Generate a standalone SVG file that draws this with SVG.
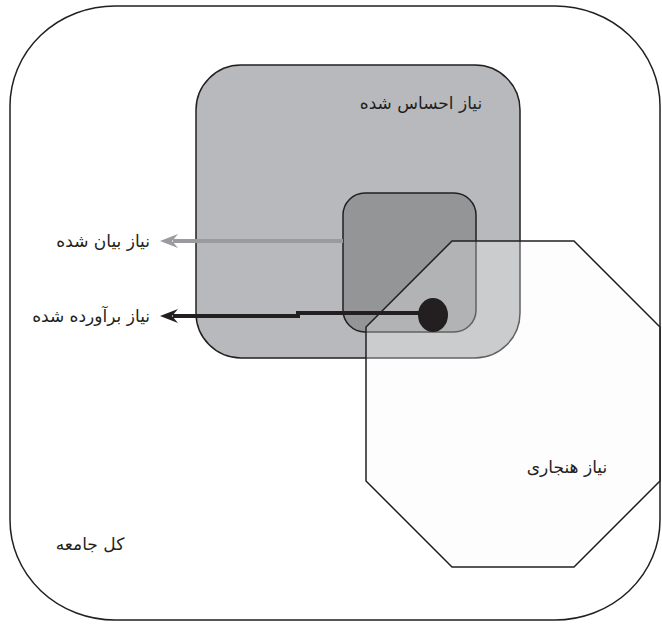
<svg xmlns="http://www.w3.org/2000/svg" width="662" height="624" viewBox="0 0 662 624">
<style>
.lbl{font-family:"DejaVu Sans","Noto Sans",sans-serif;font-size:17px;fill:#231f20;text-anchor:middle}
.lblr{font-family:"DejaVu Sans","Noto Sans",sans-serif;font-size:17px;fill:#231f20;text-anchor:end}
.edge{stroke:#231f20;stroke-width:1.5}
</style>
<defs>
<marker id="ahGray" markerWidth="18" markerHeight="14" refX="5" refY="7" orient="auto" markerUnits="userSpaceOnUse">
<path d="M0,0 L18,7 L0,14 L6,7 Z" fill="#9a9b9e"/>
</marker>
<marker id="ahBlack" markerWidth="18" markerHeight="14" refX="5" refY="7" orient="auto" markerUnits="userSpaceOnUse">
<path d="M0,0 L18,7 L0,14 L6,7 Z" fill="#231f20"/>
</marker>
</defs>
<rect width="662" height="624" fill="#ffffff"/>
<g id="society">
<rect x="10" y="6" width="650" height="614" rx="105" ry="100" fill="#ffffff" class="edge"/>
<text class="lbl" x="90" y="550">کل جامعه</text>
</g>
<g id="felt-need">
<rect x="196" y="65" width="324" height="293" rx="45" ry="45" fill="#b8b9bc" class="edge"/>
<text class="lbl" x="421" y="109">نیاز احساس شده</text>
</g>
<g id="expressed-need">
<rect x="343" y="193" width="133" height="139" rx="22" ry="22" fill="#949597" class="edge"/>
</g>
<g id="normative-need">
<polygon points="452,241 574,241 660,327 660,481 574,567 452,567 366,481 366,327" fill="#fafafa" fill-opacity="0.3" stroke="none"/>
<polygon points="452,241 574,241 660,327 660,481 574,567 452,567 366,481 366,327" fill="none" class="edge"/>
<text class="lbl" x="567" y="473">نیاز هنجاری</text>
</g>
<g id="met-need">
<ellipse cx="433" cy="315" rx="15" ry="17" fill="#231f20"/>
</g>
<g id="connectors">
<line x1="343" y1="241" x2="173" y2="241" stroke="#9a9b9e" stroke-width="4" marker-end="url(#ahGray)"/>
<polyline points="430,313 298,313 298,316 173,316" fill="none" stroke="#231f20" stroke-width="4" stroke-linejoin="miter" marker-end="url(#ahBlack)"/>
</g>
<g id="labels">
<text class="lblr" x="150" y="247">نیاز بیان شده</text>
<text class="lblr" x="150" y="322">نیاز برآورده شده</text>
</g>
</svg>
